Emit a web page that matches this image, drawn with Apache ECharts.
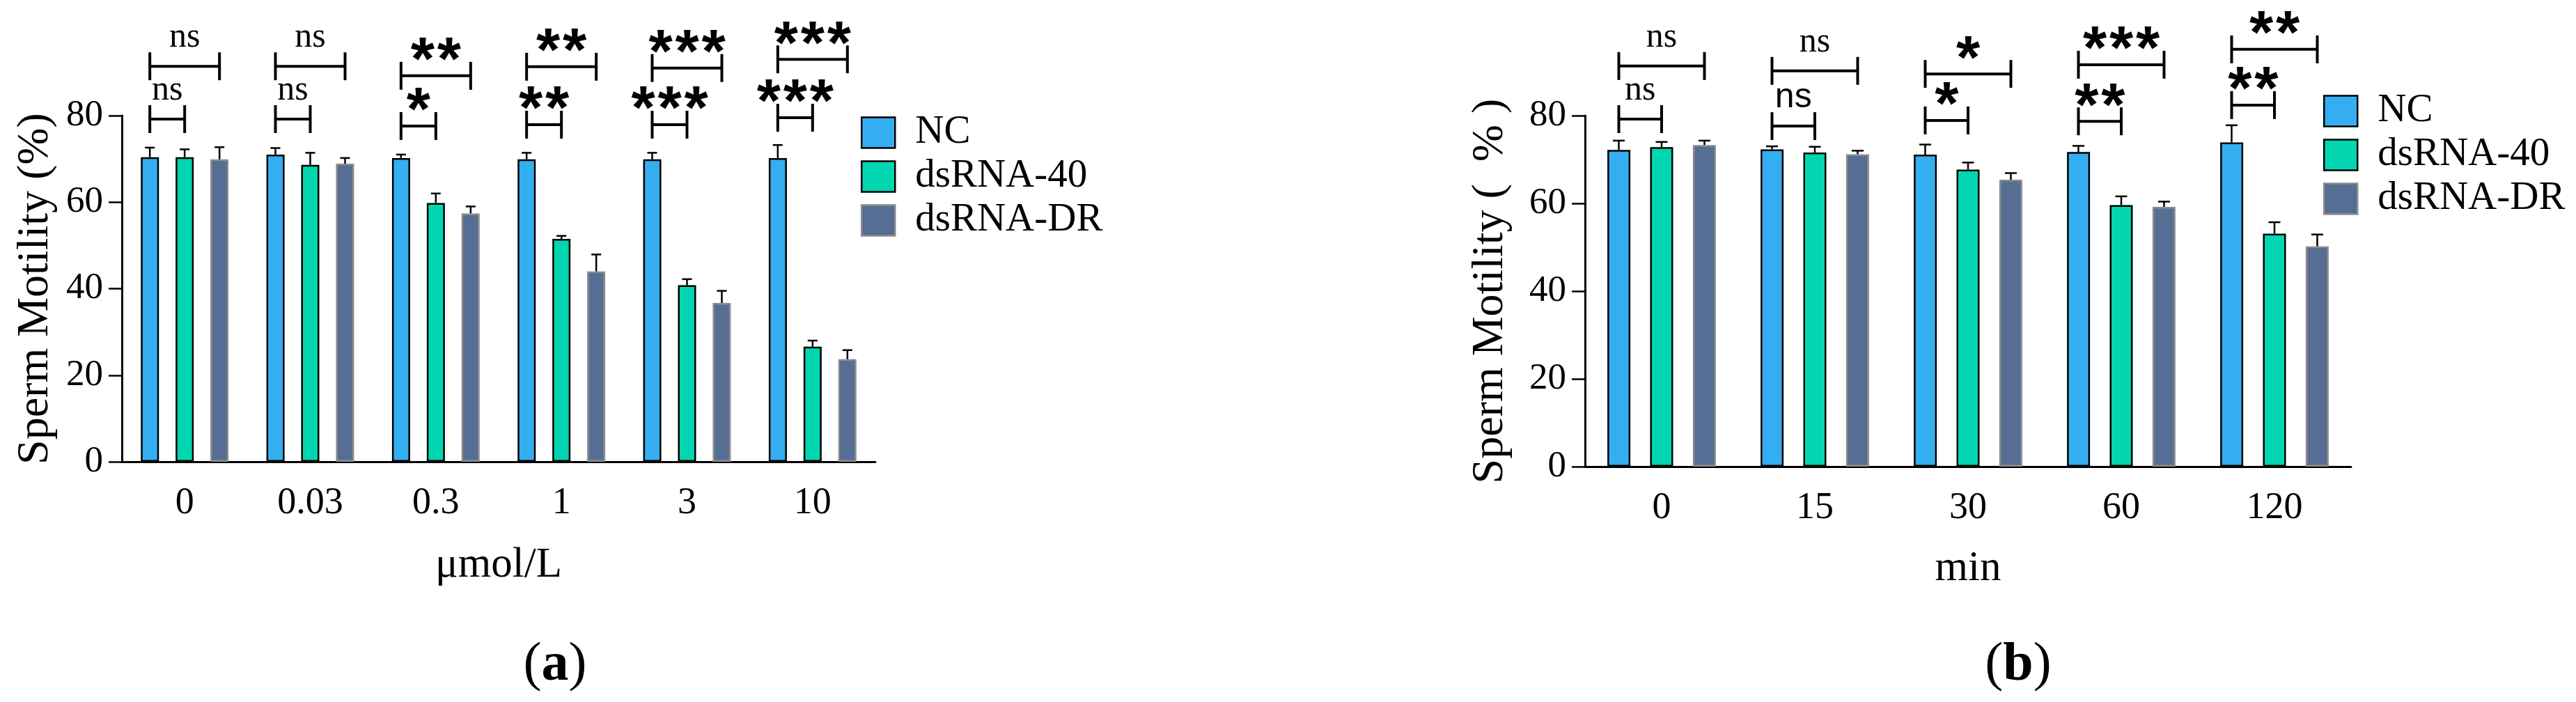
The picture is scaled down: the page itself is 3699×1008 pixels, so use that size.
<!DOCTYPE html>
<html>
<head>
<meta charset="utf-8">
<title>Sperm Motility</title>
<script src="https://cdn.jsdelivr.net/npm/echarts@6/dist/echarts.min.js"></script>
<style>
  html, body { margin: 0; padding: 0; background: #fff; }
  #chart { width: 3699px; height: 1008px; }
</style>
</head>
<body>
<div id="chart"></div>
<script>
  // (a) dose series
  const doseCats = ['0', '0.03', '0.3', '1', '3', '10'];
  const doseNC = [70.4, 71.0, 70.2, 69.9, 69.9, 70.2];
  const doseNCErr = [2.2, 1.5, 0.8, 1.5, 1.5, 3.0];
  const dose40 = [70.4, 68.6, 59.8, 51.5, 40.8, 26.6];
  const dose40Err = [1.8, 2.8, 2.2, 0.7, 1.4, 1.4];
  const doseDR = [69.9, 68.9, 57.4, 44.0, 36.7, 23.7];
  const doseDRErr = [2.8, 1.3, 1.6, 3.9, 2.8, 2.1];
  // [category, from group, to group, bracket height, mark]
  const doseSig = [
    [0, 0, 1, 79.2, 'ns'], [0, 0, 2, 91.4, 'ns'],
    [1, 0, 1, 79.2, 'ns'], [1, 0, 2, 91.4, 'ns'],
    [2, 0, 1, 77.6, '*'], [2, 0, 2, 89.2, '**'],
    [3, 0, 1, 77.9, '**'], [3, 0, 2, 91.3, '**'],
    [4, 0, 1, 77.9, '***'], [4, 0, 2, 91.0, '***'],
    [5, 0, 1, 79.5, '***'], [5, 0, 2, 93.0, '***']
  ];

  // (b) time series
  const timeCats = ['0', '15', '30', '60', '120'];
  const timeNC = [72.2, 72.3, 71.1, 71.7, 73.9];
  const timeNCErr = [2.1, 0.7, 2.3, 1.4, 3.9];
  const time40 = [72.8, 71.6, 67.7, 59.6, 53.1];
  const time40Err = [1.2, 1.3, 1.6, 2.0, 2.6];
  const timeDR = [73.3, 71.2, 65.4, 59.2, 50.2];
  const timeDRErr = [1.0, 0.8, 1.5, 1.2, 2.7];
  const timeSig = [
    [0, 0, 1, 79.2, 'ns'], [0, 0, 2, 91.3, 'ns'],
    [1, 0, 1, 77.6, 'ns', 'sans'], [1, 0, 2, 90.2, 'ns'],
    [2, 0, 1, 78.9, '*'], [2, 0, 2, 89.5, '*'],
    [3, 0, 1, 78.7, '**'], [3, 0, 2, 91.6, '***'],
    [4, 0, 1, 82.4, '**'], [4, 0, 2, 95.1, '**']
  ];

  const yTicks = [0, 20, 40, 60, 80];

  const SERIF = '"Liberation Serif", "Times New Roman", serif';
  const SANS = '"Liberation Sans", Arial, sans-serif';
  const groups = ['NC', 'dsRNA-40', 'dsRNA-DR'];
  const fills = ['#35AEF1', '#02D6B0', '#566E94'];
  const edges = ['#000000', '#000000', '#8c8c8c'];

  function barSeries(gi, means, barWidth, barGap) {
    return means.map((m, i) => ({
      name: groups[i],
      type: 'bar',
      xAxisIndex: gi,
      yAxisIndex: gi,
      data: m,
      barWidth: barWidth,
      barGap: barGap,
      silent: true,
      itemStyle: { color: fills[i], borderColor: edges[i], borderWidth: 2.5 }
    }));
  }

  function errSeries(gi, means, errs, step, capHalf) {
    return means.map((m, i) => ({
      type: 'custom',
      xAxisIndex: gi,
      yAxisIndex: gi,
      z: 5,
      silent: true,
      clip: false,
      data: m.map((v, c) => [c, v, errs[i][c]]),
      renderItem(params, api) {
        const x = api.coord([api.value(0), 0])[0] + (i - 1) * step;
        const y0 = api.coord([0, api.value(1)])[1];
        const y1 = api.coord([0, api.value(1) + api.value(2)])[1];
        const st = { stroke: '#000', lineWidth: 2.5 };
        return {
          type: 'group',
          children: [
            { type: 'line', shape: { x1: x, y1: y0, x2: x, y2: y1 }, style: st },
            { type: 'line', shape: { x1: x - capHalf, y1: y1, x2: x + capHalf, y2: y1 }, style: st }
          ]
        };
      }
    }));
  }

  // stars drawn one by one so their spacing matches the figure
  function markTexts(mark, cx, y, font) {
    if (mark === 'ns') {
      return [{
        type: 'text', x: cx, y: y - 26 - 0.3 * 50,
        style: { text: mark, fill: '#000', align: 'center', verticalAlign: 'middle',
          fontFamily: font === 'sans' ? SANS : SERIF, fontSize: 50 }
      }];
    }
    const n = mark.length;
    const out = [];
    for (let k = 0; k < n; k++) {
      out.push({
        type: 'text', x: cx + (k - (n - 1) / 2) * 38, y: y - 40 + 0.24 * 88,
        style: { text: '*', fill: '#000', align: 'center', verticalAlign: 'middle',
          fontFamily: SANS, fontWeight: 'bold', fontSize: 88 }
      });
    }
    return out;
  }

  function sigSeries(gi, sig, step) {
    return {
      type: 'custom',
      xAxisIndex: gi,
      yAxisIndex: gi,
      z: 6,
      silent: true,
      clip: false,
      data: sig.map(s => [s[0], s[1], s[2], s[3]]),
      renderItem(params, api) {
        const s = sig[params.dataIndex];
        const cx = api.coord([api.value(0), 0])[0];
        const xa = cx + (api.value(1) - 1) * step;
        const xb = cx + (api.value(2) - 1) * step;
        const y = api.coord([0, api.value(3)])[1];
        const st = { stroke: '#000', lineWidth: 4 };
        return {
          type: 'group',
          children: [
            { type: 'line', shape: { x1: xa, y1: y, x2: xb, y2: y }, style: st },
            { type: 'line', shape: { x1: xa, y1: y - 20, x2: xa, y2: y + 20 }, style: st },
            { type: 'line', shape: { x1: xb, y1: y - 20, x2: xb, y2: y + 20 }, style: st }
          ].concat(markTexts(s[4], (xa + xb) / 2, y, s[5]))
        };
      }
    };
  }

  function xAxisFor(gi, cats, name, nameGap) {
    return {
      type: 'category',
      gridIndex: gi,
      data: cats,
      name: name,
      nameLocation: 'middle',
      nameGap: nameGap,
      nameTextStyle: { fontFamily: SERIF, fontSize: 61, color: '#000' },
      axisLine: { lineStyle: { color: '#000', width: 3 } },
      axisTick: { alignWithLabel: true, length: 18, lineStyle: { color: '#000', width: 2 } },
      axisLabel: { fontFamily: SERIF, fontSize: 54, color: '#000', margin: 33 }
    };
  }

  function yAxisFor(gi, name, nameGap, nameSize) {
    return {
      type: 'value',
      gridIndex: gi,
      min: yTicks[0],
      max: yTicks[yTicks.length - 1],
      interval: yTicks[1] - yTicks[0],
      name: name,
      nameLocation: 'middle',
      nameGap: nameGap,
      nameTextStyle: { fontFamily: SERIF, fontSize: nameSize, color: '#000' },
      axisLine: { show: true, lineStyle: { color: '#000', width: 3 } },
      axisTick: { show: true, length: 19, lineStyle: { color: '#000', width: 2.5 } },
      axisLabel: { fontFamily: SERIF, fontSize: 53, color: '#000', margin: 27 },
      splitLine: { show: false }
    };
  }

  function legendFor(left, top) {
    return {
      orient: 'vertical',
      left: left,
      top: top,
      itemWidth: 48,
      itemHeight: 44,
      itemGap: 6,
      selectedMode: false,
      textStyle: { fontFamily: SERIF, fontSize: 57, color: '#000', padding: [0, 0, 0, 24] },
      data: groups.map((g, i) => ({
        name: g,
        icon: 'rect',
        itemStyle: { color: fills[i], borderColor: edges[i], borderWidth: 2.5 }
      }))
    };
  }

  function panelLabel(x, letter) {
    return {
      type: 'text',
      x: x,
      y: 956,
      style: {
        text: '{p|(}{b|' + letter + '}{p|)}',
        align: 'center',
        verticalAlign: 'middle',
        rich: {
          p: { fontFamily: SERIF, fontSize: 78, color: '#000' },
          b: { fontFamily: SERIF, fontSize: 78, fontWeight: 'bold', color: '#000' }
        }
      }
    };
  }

  const chart = echarts.init(document.getElementById('chart'));
  chart.setOption({
    animation: false,
    backgroundColor: '#fff',
    textStyle: { fontFamily: SERIF },
    grid: [
      { left: 175, top: 166, width: 1082, height: 497 },
      { left: 2276, top: 166, width: 1100, height: 504 }
    ],
    legend: [legendFor(1231, 157), legendFor(3331, 126)],
    xAxis: [
      xAxisFor(0, doseCats, 'μmol/L', 118),
      xAxisFor(1, timeCats, 'min', 116)
    ],
    yAxis: [
      yAxisFor(0, 'Sperm Motility (%)', 92, 64),
      yAxisFor(1, 'Sperm Motility (  % )', 104, 64)
    ],
    graphic: [panelLabel(797, 'a'), panelLabel(2898, 'b')],
    series: [].concat(
      barSeries(0, [doseNC, dose40, doseDR], 26, '92%'),
      barSeries(1, [timeNC, time40, timeDR], 33, '86%'),
      errSeries(0, [doseNC, dose40, doseDR], [doseNCErr, dose40Err, doseDRErr], 50, 7),
      errSeries(1, [timeNC, time40, timeDR], [timeNCErr, time40Err, timeDRErr], 61.5, 8.5),
      [sigSeries(0, doseSig, 50), sigSeries(1, timeSig, 61.5)]
    )
  });
</script>
</body>
</html>
